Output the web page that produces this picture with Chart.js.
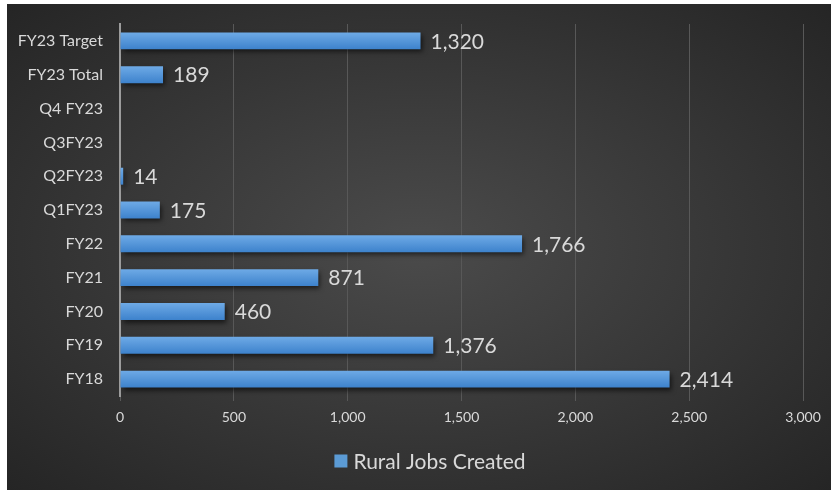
<!DOCTYPE html>
<html>
<head>
<meta charset="utf-8">
<script src="https://cdn.jsdelivr.net/npm/chart.js@4.4.0/dist/chart.umd.min.js"></script>
<style>
  html, body { margin: 0; padding: 0; background: #fff; }
  #panel {
    position: absolute; left: 7px; top: 4px; width: 824px; height: 486px;
    background: radial-gradient(ellipse at 50% 50%, #4b4b4b 0%, #3a3a3a 45%, #252525 100%);
  }
  #wrap { position: absolute; left: 0; top: 0; width: 824px; height: 486px; }
</style>
</head>
<body>
<div id="panel"><div id="wrap"><canvas id="jobsChart"></canvas></div></div>
<script>
// Données
const categories = ["FY23 Target", "FY23 Total", "Q4 FY23", "Q3FY23", "Q2FY23", "Q1FY23", "FY22", "FY21", "FY20", "FY19", "FY18"];
const ruralJobs = [1320, 189, null, null, 14, 175, 1766, 871, 460, 1376, 2414];
const seriesName = "Rural Jobs Created";
const xTicks = [0, 500, 1000, 1500, 2000, 2500, 3000];

const FONT = "Lato, 'Open Sans', sans-serif";
const TEXT = "#d9d9d9";
const BLUE = "#5b9bd5";

// Dégradé vertical par barre
function barGradient(c) {
  const y = c.chart.scales.y;
  if (!y || c.dataIndex === undefined) return BLUE;
  const py = y.getPixelForValue(c.dataIndex);
  const h = (y.height / categories.length) * 0.25;
  if (!isFinite(py) || !isFinite(h) || h <= 0) return BLUE;
  const g = c.chart.ctx.createLinearGradient(0, py - h, 0, py + h);
  g.addColorStop(0, "#6eaae6");
  g.addColorStop(1, "#3d82cc");
  return g;
}

// Ombre, étiquettes de valeurs et légende
const barStyle = {
  id: "barStyle",
  beforeDatasetsDraw(chart) {
    const ctx = chart.ctx;
    ctx.save();
    ctx.shadowColor = "rgba(0,0,0,0.6)";
    ctx.shadowBlur = 5;
    ctx.shadowOffsetX = 2;
    ctx.shadowOffsetY = 3;
  },
  afterDatasetsDraw(chart) {
    const ctx = chart.ctx;
    ctx.restore();
    ctx.save();
    ctx.font = "21px " + FONT;
    ctx.fillStyle = TEXT;
    ctx.textAlign = "left";
    ctx.textBaseline = "middle";
    chart.getDatasetMeta(0).data.forEach((bar, i) => {
      const v = ruralJobs[i];
      if (v === null) return;
      ctx.fillText(v.toLocaleString("en-US"), bar.x + 10, bar.y + 1);
    });
    ctx.restore();
  },
  afterDraw(chart) {
    const ctx = chart.ctx;
    ctx.save();
    ctx.font = "21px " + FONT;
    const tw = ctx.measureText(seriesName).width;
    const total = 13 + 6 + tw;
    const x0 = chart.width / 2 + 11 - total / 2;
    const yc = chart.height - 29;
    ctx.fillStyle = BLUE;
    ctx.fillRect(x0, yc - 6.5, 13, 13);
    ctx.fillStyle = TEXT;
    ctx.textAlign = "left";
    ctx.textBaseline = "middle";
    ctx.fillText(seriesName, x0 + 19, yc + 1);
    ctx.restore();
  }
};

const ctx = document.getElementById("jobsChart").getContext("2d");
new Chart(ctx, {
  type: "bar",
  data: {
    labels: categories,
    datasets: [{
      label: seriesName,
      data: ruralJobs,
      backgroundColor: barGradient,
      barPercentage: 0.5,
      categoryPercentage: 1.0
    }]
  },
  options: {
    indexAxis: "y",
    responsive: true,
    maintainAspectRatio: false,
    animation: false,
    layout: { padding: { left: 0, right: 28, top: 20, bottom: 52 } },
    plugins: {
      legend: { display: false },
      tooltip: { enabled: false }
    },
    scales: {
      x: {
        min: 0, max: 3000,
        afterBuildTicks: s => { s.ticks = xTicks.map(v => ({ value: v })); },
        afterFit: s => { s.height = 42; },
        border: { display: false },
        grid: { color: "#585858", lineWidth: 1, tickLength: 5, drawTicks: true },
        ticks: {
          color: TEXT, font: { family: FONT, size: 14 }, padding: 8,
          callback: v => v.toLocaleString("en-US")
        }
      },
      y: {
        afterFit: s => { s.width = 113; },
        border: { display: true, color: "#9c9c9c", width: 2 },
        grid: { display: false },
        ticks: { color: TEXT, font: { family: FONT, size: 16 }, padding: 9 }
      }
    }
  },
  plugins: [barStyle]
});
</script>
</body>
</html>
